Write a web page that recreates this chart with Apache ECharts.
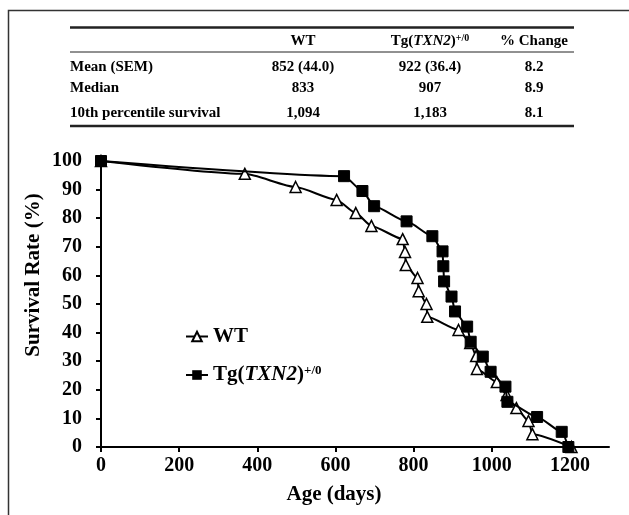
<!DOCTYPE html>
<html><head><meta charset="utf-8">
<script src="https://cdn.jsdelivr.net/npm/echarts@6/dist/echarts.min.js"></script>
<style>html,body{margin:0;padding:0;background:#fff}#c{width:629px;height:515px}</style>
</head><body><div id="c"></div>
<script>
// ---- data ----
const wtDays = [0,368,498,603,652,692,772,778,780,810,813,833,835,915,945,960,962,1013,1038,1063,1094,1104,1204];
const wtSurv = [100,95.5,90.9,86.4,81.8,77.3,72.7,68.2,63.6,59.1,54.5,50.0,45.5,40.9,36.4,31.8,27.3,22.7,18.2,13.6,9.1,4.5,0];
const tgDays = [0,622,669,699,782,848,874,876,878,897,906,937,946,977,997,1035,1040,1116,1179,1196];
const tgSurv = [100,94.7,89.5,84.2,78.9,73.7,68.4,63.2,57.9,52.6,47.4,42.1,36.8,31.6,26.3,21.1,15.8,10.5,5.3,0];
const xTickValues = [0,200,400,600,800,1000,1200];
const rowLabels = ['Mean (SEM)','Median','10th percentile survival'];
const wtStats = ['852 (44.0)','833','1,094'];
const tgStats = ['922 (36.4)','907','1,183'];
const changeStats = ['8.2','8.9','8.1'];

const FONT = '"Liberation Serif","Times New Roman",serif';
const chart = echarts.init(document.getElementById('c'), null, {renderer:'canvas'});

const supRich = {
  n:{fontFamily:FONT,fontWeight:'bold',fontSize:21,color:'#000',lineHeight:22},
  i:{fontFamily:FONT,fontWeight:'bold',fontStyle:'italic',fontSize:21,color:'#000',lineHeight:22},
  s:{fontFamily:FONT,fontWeight:'bold',fontSize:13,color:'#000',lineHeight:12,verticalAlign:'top'}
};
const tRich = {
  n:{fontFamily:FONT,fontWeight:'bold',fontSize:15,color:'#000',lineHeight:16},
  i:{fontFamily:FONT,fontWeight:'bold',fontStyle:'italic',fontSize:15,color:'#000',lineHeight:16},
  s:{fontFamily:FONT,fontWeight:'bold',fontSize:10,color:'#000',lineHeight:9,verticalAlign:'top'}
};

const graphics = [];
graphics.push({type:'rect',shape:{x:8.5,y:10.5,width:700,height:600},style:{fill:'none',stroke:'#333',lineWidth:1.5},silent:true});
// table lines
graphics.push({type:'line',shape:{x1:70,y1:27.5,x2:574,y2:27.5},style:{stroke:'#222',lineWidth:2.5}});
graphics.push({type:'line',shape:{x1:70,y1:52,x2:574,y2:52},style:{stroke:'#222',lineWidth:1}});
graphics.push({type:'line',shape:{x1:70,y1:126,x2:574,y2:126},style:{stroke:'#222',lineWidth:2.5}});
function txt(x,y,text,align,rich){
  const o={type:'text',x:x,y:y,style:{text:text,textAlign:align,textVerticalAlign:'middle',font:'bold 15px '+FONT,fill:'#000'}};
  if(rich) o.style.rich=rich;
  graphics.push(o);
}
const colX = [303,430,534];
txt(colX[0],41,'WT','center');
txt(colX[1],41,'{n|Tg(}{i|TXN2}{n|)}{s|+/0}','center',tRich);
txt(colX[2],41,'% Change','center');
const rowY = [67,88.5,113];
rowLabels.forEach((l,k)=>{
  txt(70,rowY[k],l,'left');
  txt(colX[0],rowY[k],wtStats[k],'center');
  txt(colX[1],rowY[k],tgStats[k],'center');
  txt(colX[2],rowY[k],changeStats[k],'center');
});
// axis titles
graphics.push({type:'text',x:34,y:275,rotation:Math.PI/2,style:{text:'Survival Rate (%)',textAlign:'center',textVerticalAlign:'middle',font:'bold 21px '+FONT,fill:'#000'}});
graphics.push({type:'text',x:334,y:495,style:{text:'Age (days)',textAlign:'center',textVerticalAlign:'middle',font:'bold 21px '+FONT,fill:'#000'}});

const option = {
  animation:false,
  backgroundColor:'#fff',
  grid:{left:101,right:20,top:161,bottom:68,containLabel:false},
  xAxis:{type:'value',min:0,max:1300,interval:200,
    axisLine:{show:true,lineStyle:{color:'#000',width:2}},
    axisTick:{show:true,length:5,lineStyle:{color:'#000',width:2},customValues:xTickValues},
    axisLabel:{fontFamily:FONT,fontWeight:'bold',fontSize:20,color:'#000',margin:9,customValues:xTickValues,
      formatter:function(v){return String(v);}},
    splitLine:{show:false}},
  yAxis:{type:'value',min:0,max:100,interval:10,
    axisLine:{show:true,lineStyle:{color:'#000',width:2}},
    axisTick:{show:true,length:5,lineStyle:{color:'#000',width:2}},
    axisLabel:{fontFamily:FONT,fontWeight:'bold',fontSize:20,color:'#000',margin:19},
    splitLine:{show:false}},
  legend:{orient:'vertical',left:180,top:321,itemGap:17,itemWidth:22,itemHeight:12,
    data:['WT','Tg'],
    formatter:function(n){return n==='WT'?'{n|WT}':'{n|Tg(}{i|TXN2}{n|)}{s|+/0}';},
    textStyle:{fontFamily:FONT,fontWeight:'bold',fontSize:21,color:'#000',rich:supRich}},
  series:[
    {name:'WT',type:'line',data:wtDays.map((d,k)=>[d,wtSurv[k]]),symbol:'triangle',symbolSize:11,
     smooth:0.2,smoothMonotone:'x',
     lineStyle:{color:'#000',width:2},itemStyle:{color:'#fff',borderColor:'#000',borderWidth:1.5},z:2},
    {name:'Tg',type:'line',data:tgDays.map((d,k)=>[d,tgSurv[k]]),symbol:'rect',symbolSize:11,
     smooth:0.2,smoothMonotone:'x',
     lineStyle:{color:'#000',width:2},itemStyle:{color:'#000',borderColor:'#000'},z:3}
  ],
  graphic:graphics
};
chart.setOption(option);
</script></body></html>
